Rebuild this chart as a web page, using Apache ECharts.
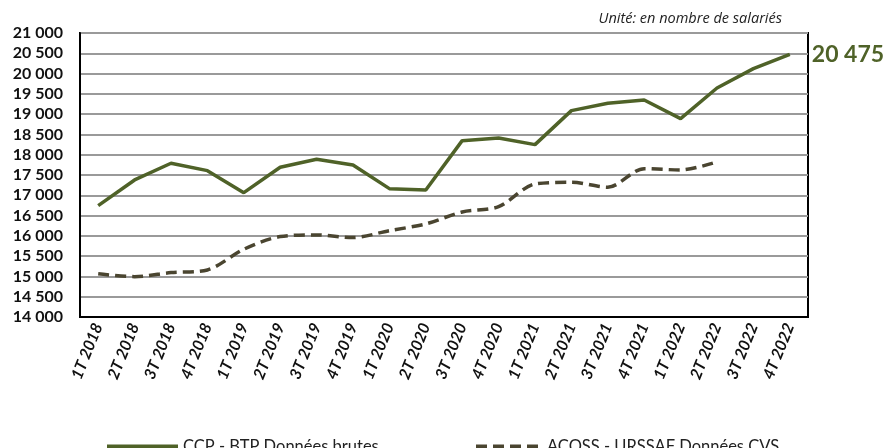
<!DOCTYPE html>
<html>
<head>
<meta charset="utf-8">
<script src="https://cdn.jsdelivr.net/npm/echarts@6/dist/echarts.min.js"></script>
<style>
  html, body { margin: 0; padding: 0; background: #fff; }
  #chart { width: 887px; height: 448px; }
</style>
</head>
<body>
<div id="chart"></div>
<script>
var quarters = ["1T 2018", "2T 2018", "3T 2018", "4T 2018", "1T 2019", "2T 2019", "3T 2019", "4T 2019",
  "1T 2020", "2T 2020", "3T 2020", "4T 2020", "1T 2021", "2T 2021", "3T 2021", "4T 2021",
  "1T 2022", "2T 2022", "3T 2022", "4T 2022"];
// CCP - BTP, raw data
var ccpBtp = [16745, 17378, 17789, 17607, 17065, 17690, 17888, 17748,
  17164, 17132, 18347, 18413, 18248, 19086, 19267, 19349,
  18889, 19645, 20121, 20475];
// ACOSS - URSSAF, seasonally adjusted (stops at 2T 2022)
var acossUrssaf = [15065, 14995, 15094, 15160, 15670, 15982, 16023, 15957,
  16129, 16294, 16589, 16720, 17279, 17321, 17198, 17657,
  17624, 17822, null, null];
var yMin = 14000, yMax = 21000, yStep = 500;

var green = "#4f6228";
var brown = "#4a4530";
var font = "Lato, 'Open Sans', sans-serif";

function fmt(v) {
  return String(v).replace(/\B(?=(\d{3})+(?!\d))/g, " ");
}

var chart = echarts.init(document.getElementById("chart"));
var option = {
  animation: false,
  textStyle: { fontFamily: font },
  title: {
    text: "Unité: en nombre de salariés",
    right: 100,
    top: 6,
    textStyle: { fontSize: 14.5, fontStyle: "italic", fontWeight: "normal", color: "#222", fontFamily: "'Open Sans', sans-serif" }
  },
  legend: [
    {
      data: ["CCP - BTP Données brutes"],
      left: 100, top: 433,
      itemWidth: 71, itemHeight: 14, itemGap: 6,
      itemStyle: { opacity: 0 },
      lineStyle: { width: 4 },
      textStyle: { fontSize: 16.5, color: "#222" }
    },
    {
      data: ["ACOSS - URSSAF Données CVS"],
      left: 469, top: 433,
      itemWidth: 66, itemHeight: 14,
      itemStyle: { opacity: 0 },
      lineStyle: { width: 4 },
      textStyle: { fontSize: 16.5, color: "#222" }
    }
  ],
  grid: {
    left: 80, right: 79, top: 33, bottom: 131,
    show: true, borderColor: "#000", borderWidth: 2
  },
  xAxis: {
    type: "category",
    data: quarters,
    boundaryGap: true,
    axisLine: { lineStyle: { color: "#000", width: 2 } },
    axisTick: { show: false },
    axisLabel: {
      rotate: 68, interval: 0, margin: 7,
      fontSize: 16, fontWeight: "bold", fontStyle: "italic", color: "#111"
    }
  },
  yAxis: {
    type: "value",
    min: yMin, max: yMax, interval: yStep,
    axisLine: { show: true, lineStyle: { color: "#000", width: 2 } },
    axisTick: { show: false },
    splitLine: { lineStyle: { color: "#9a9a9a", width: 2 } },
    axisLabel: {
      fontSize: 16, fontWeight: "bold", color: "#111", margin: 17,
      formatter: fmt
    }
  },
  series: [
    {
      name: "CCP - BTP Données brutes",
      type: "line",
      data: ccpBtp,
      symbol: "none",
      lineStyle: { color: green, width: 3.5 },
      itemStyle: { color: green },
      markPoint: {
        symbol: "circle",
        symbolSize: 0,
        data: [{ coord: [ccpBtp.length - 1, ccpBtp[ccpBtp.length - 1]], value: ccpBtp[ccpBtp.length - 1] }],
        label: {
          show: true, position: "right", distance: 22,
          fontSize: 23, fontWeight: "bold", color: green,
          formatter: function (p) { return fmt(p.value); }
        }
      }
    },
    {
      name: "ACOSS - URSSAF Données CVS",
      type: "line",
      data: acossUrssaf,
      symbol: "none",
      smooth: 0.3,
      lineStyle: { color: brown, width: 3.5, type: [11, 6] },
      itemStyle: { color: brown }
    }
  ]
};
chart.setOption(option);
</script>
</body>
</html>
